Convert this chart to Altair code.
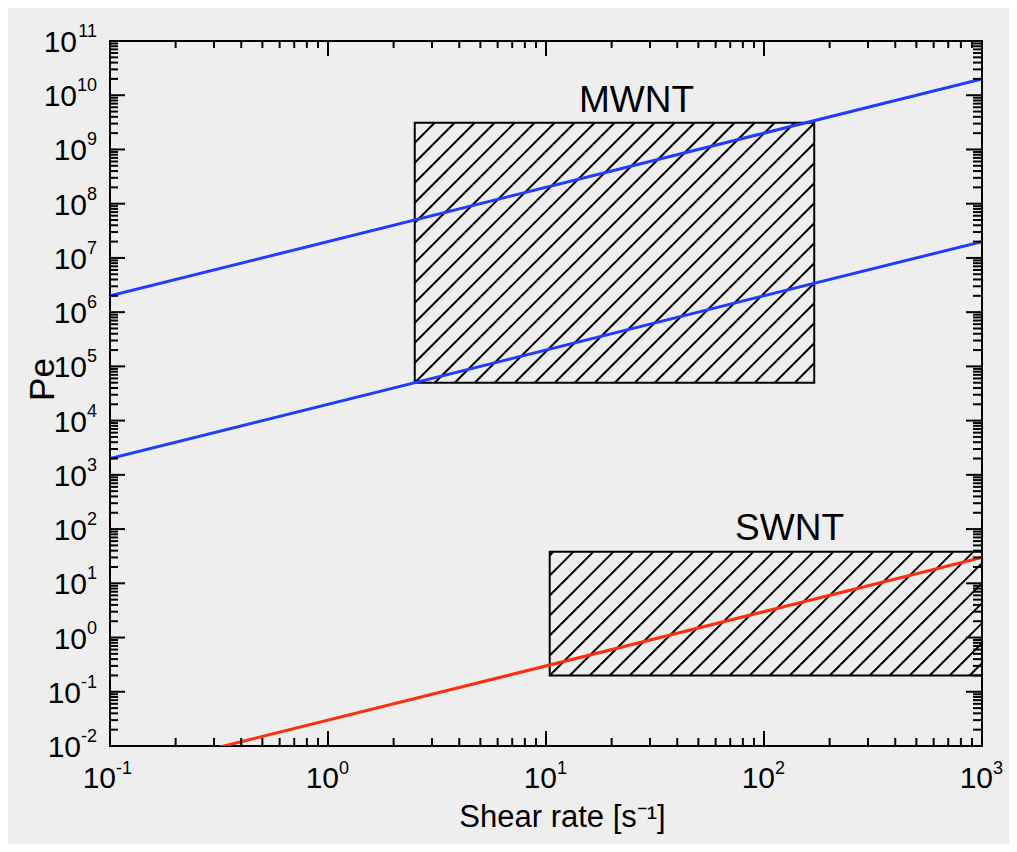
import altair as alt
import pandas as pd
import numpy as np

# ---------------- data ----------------
line_x = [0.1, 1000.0]
mwnt_upper = [2e6, 2e10]
mwnt_lower = [2e3, 2e7]
swnt_line = [3e-3, 30.0]

box_names = ["MWNT", "SWNT"]
box_x1 = [2.5, 10.4]
box_x2 = [170.0, 1000.0]
box_y1 = [5e4, 0.2]
box_y2 = [3.1e9, 38.0]

label_text = ["MWNT", "SWNT"]
label_x = [26.0, 131.0]
label_y = [4.9e9, 63.0]

x_decades = [-1, 0, 1, 2, 3]
y_decades = list(range(-2, 12))

X_DOM = [0.1, 1000.0]
Y_DOM = [1e-2, 1e11]

# ---------------- layout / style ----------------
W, H = 872, 705
FONT = "Liberation Sans"
BLUE = "#1f3cff"
RED = "#ff2e0a"
BG = "#eeeeee"

xs = alt.Scale(type="log", domain=X_DOM, nice=False)
ys = alt.Scale(type="log", domain=Y_DOM, nice=False)

x_axis = alt.Axis(title="Shear rate [s⁻¹]", labels=False, ticks=False, domain=False, grid=False,
                  titleFont=FONT, titleFontSize=31, titleFontWeight="normal", titleColor="black",
                  titleX=452, titleY=80, titleAlign="center", titleBaseline="alphabetic")
y_axis = alt.Axis(title="Pe", labels=False, ticks=False, domain=False, grid=False,
                  titleFont=FONT, titleFontSize=35, titleFontWeight="normal", titleColor="black",
                  titleAngle=-90, titleX=-68, titleY=338, titleAlign="center", titleBaseline="middle")


def X(field):
    return alt.X(field, type="quantitative", scale=xs, axis=x_axis)


def Y(field):
    return alt.Y(field, type="quantitative", scale=ys, axis=y_axis)


# lines
lines_df = pd.DataFrame({
    "x": line_x * 3,
    "y": mwnt_upper + mwnt_lower + swnt_line,
    "series": ["upper"] * 2 + ["lower"] * 2 + ["swnt"] * 2,
})
lines = alt.Chart(lines_df).mark_line(strokeWidth=3, clip=True).encode(
    x=X("x"), y=Y("y"), detail="series:N",
    color=alt.Color("series:N", scale=alt.Scale(domain=["upper", "lower", "swnt"],
                                                range=[BLUE, BLUE, RED]), legend=None),
)

# boxes
boxes_df = pd.DataFrame({"name": box_names, "x1": box_x1, "x2": box_x2, "y1": box_y1, "y2": box_y2})
boxes = alt.Chart(boxes_df).mark_rect(fillOpacity=0, stroke="black", strokeWidth=2).encode(
    x=X("x1"), x2="x2", y=Y("y1"), y2="y2")

# hatch pattern (45 degree lines, 20 px apart, clipped to each box)
u0, v0 = np.log10(X_DOM[0]), np.log10(Y_DOM[0])
kx = W / (np.log10(X_DOM[1]) - u0)
ky = H / (np.log10(Y_DOM[1]) - v0)
SP = 20.0
hrows = []
for xa, xb, ya, yb in zip(box_x1, box_x2, box_y1, box_y2):
    pxa, pxb = (np.log10(xa) - u0) * kx, (np.log10(xb) - u0) * kx
    pya, pyb = (np.log10(ya) - v0) * ky, (np.log10(yb) - v0) * ky
    c0 = pya - pxa
    kmin = int(np.ceil((pya - pxb - c0) / SP))
    kmax = int(np.floor((pyb - pxa - c0) / SP))
    for k in range(kmin, kmax + 1):
        c = c0 + k * SP
        lo = max(pxa, pya - c)
        hi = min(pxb, pyb - c)
        if hi - lo > 0.5:
            hrows.append({
                "hx": 10 ** (lo / kx + u0), "hy": 10 ** ((lo + c) / ky + v0),
                "hx2": 10 ** (hi / kx + u0), "hy2": 10 ** ((hi + c) / ky + v0),
            })
hatch = alt.Chart(pd.DataFrame(hrows)).mark_rule(stroke="black", strokeWidth=2).encode(
    x=X("hx"), y=Y("hy"), x2="hx2", y2="hy2")

# annotations
ann = alt.Chart(pd.DataFrame({"t": label_text, "x": label_x, "y": label_y})).mark_text(
    font=FONT, fontSize=37, color="black", align="center", baseline="alphabetic").encode(
    x=X("x"), y=Y("y"), text="t:N")

# ticks (inward) on all four sides
x_major = [10.0 ** d for d in x_decades]
x_minor = [m * 10.0 ** d for d in x_decades[:-1] for m in range(2, 10)]
y_major = [10.0 ** d for d in y_decades]
y_minor = [m * 10.0 ** d for d in y_decades[:-1] for m in range(2, 10)]

tick_layers = []
for vals, ln_b, ln_t in [(x_major, 15, 15), (x_minor, 8, 7)]:
    d = pd.DataFrame({"tx": vals})
    tick_layers.append(alt.Chart(d).mark_rule(stroke="black", strokeWidth=2).encode(
        x=X("tx"), y=alt.value(H), y2=alt.value(H - ln_b)))
    tick_layers.append(alt.Chart(d).mark_rule(stroke="black", strokeWidth=2).encode(
        x=X("tx"), y=alt.value(0), y2=alt.value(ln_t)))
for vals, ln_l, ln_r in [(y_major, 15, 16), (y_minor, 8, 9)]:
    d = pd.DataFrame({"ty": vals})
    tick_layers.append(alt.Chart(d).mark_rule(stroke="black", strokeWidth=2).encode(
        y=Y("ty"), x=alt.value(0), x2=alt.value(ln_l)))
    tick_layers.append(alt.Chart(d).mark_rule(stroke="black", strokeWidth=2).encode(
        y=Y("ty"), x=alt.value(W), x2=alt.value(W - ln_r)))

# tick labels: "10" + superscript exponent
BASE_FS, EXP_FS = 30, 18
lab_layers = []
xl = pd.DataFrame({"v": x_major, "e": [str(d) for d in x_decades]})
for neg, dx_base, dx_exp in [(False, 11, 11), (True, 6, 6)]:
    d = xl[xl["e"].str.startswith("-") == neg]
    lab_layers.append(alt.Chart(d).mark_text(font=FONT, fontSize=BASE_FS, color="black", align="right",
                                             baseline="alphabetic", dx=dx_base, dy=42).encode(
        x=X("v"), y=alt.value(H), text=alt.value("10")))
    lab_layers.append(alt.Chart(d).mark_text(font=FONT, fontSize=EXP_FS, color="black", align="left",
                                             baseline="alphabetic", dx=dx_exp, dy=28).encode(
        x=X("v"), y=alt.value(H), text="e:N"))


def kind(s):
    if s.startswith("-"):
        return 3
    return 1 if len(s) == 1 else 2


yl = pd.DataFrame({"v": y_major, "e": [str(d) for d in y_decades]})
for cls, dx_base in [(1, -23), (2, -33), (3, -29)]:
    d = yl[yl["e"].map(kind) == cls]
    lab_layers.append(alt.Chart(d).mark_text(font=FONT, fontSize=BASE_FS, color="black", align="right",
                                             baseline="alphabetic", dx=dx_base, dy=11).encode(
        y=Y("v"), x=alt.value(0), text=alt.value("10")))
    lab_layers.append(alt.Chart(d).mark_text(font=FONT, fontSize=EXP_FS, color="black", align="right",
                                             baseline="alphabetic", dx=-13, dy=-4).encode(
        y=Y("v"), x=alt.value(0), text="e:N"))

chart = alt.layer(hatch, boxes, lines, ann, *tick_layers, *lab_layers).properties(
    width=W, height=H,
    autosize=alt.AutoSizeParams(type="none"),
    padding={"left": 102, "top": 33, "right": 27, "bottom": 98},
    background=BG,
).configure_view(stroke="black", strokeWidth=2, fill=BG)

chart.save("out.html", embed_options={"renderer": "svg", "actions": False})
